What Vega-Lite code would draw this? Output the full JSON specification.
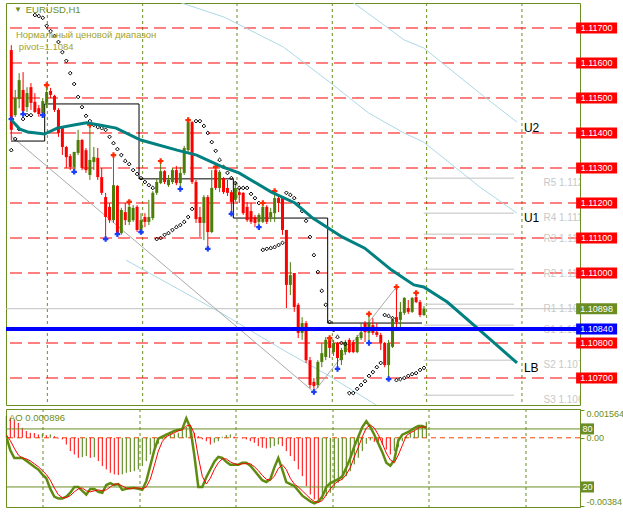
{
"$schema":"https://vega.github.io/schema/vega-lite/v6.json",
"background":"#ffffff",
"padding":{"left":3,"top":2,"right":0,"bottom":0},
"autosize":{"type":"pad"},
"spacing":4,
"bounds":"flush",
"config":{"view":{"stroke":"#6b8e23","strokeWidth":1},"font":"Liberation Sans"},
"datasets":{
"grid":[{"i":9.175},{"i":33.425},{"i":57.425},{"i":81.675},{"i":105.675},{"i":129.925}],
"levels":[{"p":1.117},{"p":1.116},{"p":1.115},{"p":1.114},{"p":1.113},{"p":1.112},{"p":1.111},{"p":1.11},{"p":1.108},{"p":1.107}],
"bid":[{"p":1.10898}],
"pivotline":[{"p":1.1084}],
"tags":[{"p":1.117,"kind":"level"},{"p":1.116,"kind":"level"},{"p":1.115,"kind":"level"},{"p":1.114,"kind":"level"},{"p":1.113,"kind":"level"},{"p":1.112,"kind":"level"},{"p":1.111,"kind":"level"},{"p":1.11,"kind":"level"},{"p":1.108,"kind":"level"},{"p":1.107,"kind":"level"},{"p":1.10898,"kind":"bid"},{"p":1.1084,"kind":"pivot"}],
"pivots":[{"p":1.11271,"label":"R5 1.1127"},{"p":1.11171,"label":"R4 1.1117"},{"p":1.11111,"label":"R3 1.1111"},{"p":1.11011,"label":"R2 1.1101"},{"p":1.10911,"label":"R1 1.1091"},{"p":1.10851,"label":"S1 1.1085"},{"p":1.10751,"label":"S2 1.1075"},{"p":1.10651,"label":"S3 1.1065"}],
"chan":[
{"line":"U2","i":85.425,"p":1.11786},{"line":"U2","i":87.175,"p":1.11771},{"line":"U2","i":94.175,"p":1.11714},{"line":"U2","i":99.925,"p":1.11666},{"line":"U2","i":104.925,"p":1.11643},{"line":"U2","i":119.175,"p":1.11514},{"line":"U2","i":128.675,"p":1.11431},
{"line":"U1","i":41.675,"p":1.1178},{"line":"U1","i":43.425,"p":1.11771},{"line":"U1","i":54.175,"p":1.11731},{"line":"U1","i":69.175,"p":1.11646},{"line":"U1","i":80.925,"p":1.11546},{"line":"U1","i":90.925,"p":1.11457},{"line":"U1","i":99.925,"p":1.114},{"line":"U1","i":104.925,"p":1.11374},{"line":"U1","i":119.175,"p":1.11246},{"line":"U1","i":128.675,"p":1.11171},
{"line":"LB","i":29.175,"p":1.11037},{"line":"LB","i":52.925,"p":1.10889},{"line":"LB","i":69.175,"p":1.1078},{"line":"LB","i":80.425,"p":1.10709},{"line":"LB","i":91.675,"p":1.10631},{"line":"LB","i":95.425,"p":1.10603}],
"zz":[{"i":0,"p":1.11391},{"i":77,"p":1.1066},{"i":98,"p":1.1096}],
"daily":[{"i":-0.075,"p":1.11377},{"i":8.5,"p":1.11483},{"i":32.5,"p":1.11269},{"i":56.5,"p":1.11157},{"i":80.5,"p":1.10857},{"i":104.5,"p":1.10857}],
"ma":[{"i":0,"p":1.11437},{"i":2.175,"p":1.11411},{"i":4.175,"p":1.11403},{"i":8.425,"p":1.11397},{"i":11.675,"p":1.11414},{"i":15.925,"p":1.11423},{"i":19.175,"p":1.11429},{"i":22.425,"p":1.11423},{"i":26.675,"p":1.11414},{"i":32.925,"p":1.1138},{"i":42.175,"p":1.11351},{"i":47.175,"p":1.11337},{"i":53.675,"p":1.11303},{"i":57.925,"p":1.11286},{"i":66.175,"p":1.11231},{"i":72.175,"p":1.112},{"i":76.675,"p":1.11157},{"i":84.175,"p":1.11103},{"i":89.925,"p":1.11071},{"i":96.675,"p":1.11009},{"i":102.425,"p":1.10966},{"i":104.925,"p":1.1096},{"i":110.925,"p":1.10917},{"i":119.175,"p":1.10837},{"i":128.675,"p":1.10743}],
"candles":[
{"i":0,"o":1.11637,"h":1.11651,"l":1.1138,"c":1.11409},
{"i":1,"o":1.11451,"h":1.11523,"l":1.11446,"c":1.115},
{"i":2,"o":1.11497,"h":1.11571,"l":1.11471,"c":1.11551},
{"i":3,"o":1.11523,"h":1.11574,"l":1.11457,"c":1.11463},
{"i":4,"o":1.11474,"h":1.11531,"l":1.1146,"c":1.11514},
{"i":5,"o":1.11531,"h":1.11543,"l":1.11466,"c":1.11486},
{"i":6,"o":1.11489,"h":1.11514,"l":1.11457,"c":1.1146},
{"i":7,"o":1.11471,"h":1.1148,"l":1.11446,"c":1.11454},
{"i":8,"o":1.11457,"h":1.115,"l":1.11449,"c":1.11491},
{"i":9,"o":1.11486,"h":1.11537,"l":1.11471,"c":1.11517},
{"i":10,"o":1.1152,"h":1.11529,"l":1.115,"c":1.11509},
{"i":11,"o":1.11506,"h":1.11509,"l":1.1146,"c":1.11466},
{"i":12,"o":1.11466,"h":1.11471,"l":1.11389,"c":1.114},
{"i":13,"o":1.11414,"h":1.11417,"l":1.11337,"c":1.1136},
{"i":14,"o":1.1136,"h":1.11363,"l":1.113,"c":1.11331},
{"i":15,"o":1.11334,"h":1.1134,"l":1.11294,"c":1.11303},
{"i":16,"o":1.11303,"h":1.11346,"l":1.11289,"c":1.11346},
{"i":17,"o":1.11343,"h":1.11409,"l":1.11337,"c":1.1138},
{"i":18,"o":1.1138,"h":1.11383,"l":1.11294,"c":1.113},
{"i":19,"o":1.11351,"h":1.11357,"l":1.11286,"c":1.11294},
{"i":20,"o":1.1128,"h":1.11423,"l":1.11266,"c":1.11323},
{"i":21,"o":1.11317,"h":1.1136,"l":1.11294,"c":1.11331},
{"i":22,"o":1.11329,"h":1.11357,"l":1.11266,"c":1.11274},
{"i":23,"o":1.11274,"h":1.113,"l":1.11223,"c":1.11229},
{"i":24,"o":1.11217,"h":1.11229,"l":1.11097,"c":1.1116},
{"i":25,"o":1.11189,"h":1.112,"l":1.11143,"c":1.11151},
{"i":26,"o":1.11151,"h":1.11337,"l":1.11143,"c":1.11251},
{"i":27,"o":1.11249,"h":1.11251,"l":1.11109,"c":1.11114},
{"i":28,"o":1.11114,"h":1.11186,"l":1.11109,"c":1.1118},
{"i":29,"o":1.11174,"h":1.112,"l":1.11137,"c":1.11151},
{"i":30,"o":1.11146,"h":1.11203,"l":1.11137,"c":1.11189},
{"i":31,"o":1.11151,"h":1.11194,"l":1.11146,"c":1.11186},
{"i":32,"o":1.11189,"h":1.11194,"l":1.11117,"c":1.11123},
{"i":33,"o":1.11117,"h":1.11171,"l":1.11114,"c":1.11151},
{"i":34,"o":1.1116,"h":1.11171,"l":1.11131,"c":1.11146},
{"i":35,"o":1.11146,"h":1.11209,"l":1.11137,"c":1.1116},
{"i":36,"o":1.11157,"h":1.11234,"l":1.11151,"c":1.11229},
{"i":37,"o":1.11229,"h":1.11271,"l":1.11223,"c":1.1126},
{"i":38,"o":1.11257,"h":1.1132,"l":1.11254,"c":1.11291},
{"i":39,"o":1.11291,"h":1.11294,"l":1.11254,"c":1.1126},
{"i":40,"o":1.11251,"h":1.1128,"l":1.11246,"c":1.11266},
{"i":41,"o":1.1126,"h":1.113,"l":1.11254,"c":1.11294},
{"i":42,"o":1.11294,"h":1.11306,"l":1.11251,"c":1.11257},
{"i":43,"o":1.11257,"h":1.11303,"l":1.1124,"c":1.11286},
{"i":44,"o":1.11286,"h":1.11363,"l":1.1128,"c":1.11357},
{"i":45,"o":1.11351,"h":1.1144,"l":1.11346,"c":1.11431},
{"i":46,"o":1.11431,"h":1.11434,"l":1.11254,"c":1.1126},
{"i":47,"o":1.1126,"h":1.11266,"l":1.11143,"c":1.11154},
{"i":48,"o":1.1116,"h":1.11189,"l":1.11103,"c":1.11143},
{"i":49,"o":1.11143,"h":1.11223,"l":1.11094,"c":1.11217},
{"i":50,"o":1.11217,"h":1.11223,"l":1.11069,"c":1.11117},
{"i":51,"o":1.11117,"h":1.11294,"l":1.11114,"c":1.11243},
{"i":52,"o":1.11294,"h":1.11303,"l":1.11237,"c":1.11243},
{"i":53,"o":1.11243,"h":1.11294,"l":1.11231,"c":1.11289},
{"i":54,"o":1.11271,"h":1.11274,"l":1.11226,"c":1.11231},
{"i":55,"o":1.11243,"h":1.11266,"l":1.1122,"c":1.11229},
{"i":56,"o":1.11231,"h":1.11237,"l":1.11169,"c":1.11203},
{"i":57,"o":1.11209,"h":1.1126,"l":1.11203,"c":1.11243},
{"i":58,"o":1.11231,"h":1.11243,"l":1.112,"c":1.11223},
{"i":59,"o":1.11229,"h":1.11231,"l":1.11166,"c":1.11171},
{"i":60,"o":1.11189,"h":1.11203,"l":1.11146,"c":1.11151},
{"i":61,"o":1.11177,"h":1.112,"l":1.1114,"c":1.11146},
{"i":62,"o":1.1116,"h":1.11166,"l":1.11131,"c":1.11143},
{"i":63,"o":1.11146,"h":1.11171,"l":1.11131,"c":1.11166},
{"i":64,"o":1.11146,"h":1.112,"l":1.11143,"c":1.11189},
{"i":65,"o":1.11189,"h":1.11194,"l":1.1114,"c":1.11146},
{"i":66,"o":1.1116,"h":1.11186,"l":1.11146,"c":1.11174},
{"i":67,"o":1.11171,"h":1.11234,"l":1.11146,"c":1.11214},
{"i":68,"o":1.11214,"h":1.1122,"l":1.11174,"c":1.112},
{"i":69,"o":1.11214,"h":1.11214,"l":1.11109,"c":1.11123},
{"i":70,"o":1.11123,"h":1.11123,"l":1.109,"c":1.10966},
{"i":71,"o":1.10966,"h":1.11031,"l":1.10937,"c":1.10994},
{"i":72,"o":1.11,"h":1.11,"l":1.10889,"c":1.10903},
{"i":73,"o":1.10909,"h":1.10914,"l":1.10814,"c":1.10829},
{"i":74,"o":1.10829,"h":1.10874,"l":1.10809,"c":1.10857},
{"i":75,"o":1.10857,"h":1.10863,"l":1.10743,"c":1.10751},
{"i":76,"o":1.10751,"h":1.1076,"l":1.10671,"c":1.1068},
{"i":77,"o":1.10689,"h":1.107,"l":1.1066,"c":1.10677},
{"i":78,"o":1.1068,"h":1.10751,"l":1.10671,"c":1.10746},
{"i":79,"o":1.10746,"h":1.108,"l":1.10731,"c":1.10771},
{"i":80,"o":1.1076,"h":1.10817,"l":1.10751,"c":1.10809},
{"i":81,"o":1.10811,"h":1.10814,"l":1.10757,"c":1.10786},
{"i":82,"o":1.10774,"h":1.10809,"l":1.10763,"c":1.108},
{"i":83,"o":1.108,"h":1.10803,"l":1.10723,"c":1.10757},
{"i":84,"o":1.10751,"h":1.10786,"l":1.10737,"c":1.1078},
{"i":85,"o":1.10774,"h":1.10809,"l":1.10766,"c":1.10803},
{"i":86,"o":1.10809,"h":1.10814,"l":1.10771,"c":1.10774},
{"i":87,"o":1.10803,"h":1.10809,"l":1.10771,"c":1.10774},
{"i":88,"o":1.10774,"h":1.10823,"l":1.10771,"c":1.10817},
{"i":89,"o":1.10814,"h":1.10857,"l":1.10809,"c":1.10831},
{"i":90,"o":1.10857,"h":1.10863,"l":1.10803,"c":1.10831},
{"i":91,"o":1.10829,"h":1.10883,"l":1.108,"c":1.10857},
{"i":92,"o":1.10851,"h":1.10871,"l":1.10823,"c":1.10829},
{"i":93,"o":1.10831,"h":1.10857,"l":1.10817,"c":1.10823},
{"i":94,"o":1.10823,"h":1.10829,"l":1.1078,"c":1.108},
{"i":95,"o":1.108,"h":1.10803,"l":1.10731,"c":1.10737},
{"i":96,"o":1.10737,"h":1.10809,"l":1.10697,"c":1.108},
{"i":97,"o":1.10789,"h":1.10871,"l":1.10786,"c":1.10866},
{"i":98,"o":1.10874,"h":1.1096,"l":1.10843,"c":1.1086},
{"i":99,"o":1.10866,"h":1.10917,"l":1.10843,"c":1.10889},
{"i":100,"o":1.10886,"h":1.10931,"l":1.1088,"c":1.10929},
{"i":101,"o":1.109,"h":1.10923,"l":1.10883,"c":1.10889},
{"i":102,"o":1.10889,"h":1.10931,"l":1.10886,"c":1.10929},
{"i":103,"o":1.10931,"h":1.10943,"l":1.10914,"c":1.10917},
{"i":104,"o":1.10917,"h":1.10923,"l":1.10874,"c":1.1088},
{"i":105,"o":1.1088,"h":1.10906,"l":1.10877,"c":1.10898}],
"sar":[{"i":0,"p":1.11351},{"i":1,"p":1.11383},{"i":2,"p":1.11411},{"i":3,"p":1.1144},{"i":4,"p":1.11451},{"i":5,"p":1.11451},{"i":6,"p":1.11737},{"i":7,"p":1.11734},{"i":8,"p":1.11729},{"i":9,"p":1.11706},{"i":10,"p":1.11691},{"i":11,"p":1.11677},{"i":12,"p":1.1166},{"i":13,"p":1.11631},{"i":14,"p":1.11606},{"i":15,"p":1.11571},{"i":16,"p":1.1154},{"i":17,"p":1.11503},{"i":18,"p":1.11474},{"i":19,"p":1.11449},{"i":20,"p":1.11434},{"i":21,"p":1.11423},{"i":22,"p":1.11417},{"i":23,"p":1.11414},{"i":24,"p":1.11409},{"i":25,"p":1.11389},{"i":26,"p":1.11371},{"i":27,"p":1.11354},{"i":28,"p":1.11337},{"i":29,"p":1.1132},{"i":30,"p":1.11311},{"i":31,"p":1.11294},{"i":32,"p":1.11283},{"i":33,"p":1.11271},{"i":34,"p":1.1126},{"i":35,"p":1.11251},{"i":36,"p":1.11243},{"i":37,"p":1.11097},{"i":38,"p":1.111},{"i":39,"p":1.11109},{"i":40,"p":1.11114},{"i":41,"p":1.11123},{"i":42,"p":1.11131},{"i":43,"p":1.11137},{"i":44,"p":1.11146},{"i":45,"p":1.1116},{"i":46,"p":1.11183},{"i":47,"p":1.11434},{"i":48,"p":1.11434},{"i":49,"p":1.1142},{"i":50,"p":1.114},{"i":51,"p":1.11374},{"i":52,"p":1.11349},{"i":53,"p":1.11323},{"i":54,"p":1.11303},{"i":55,"p":1.11286},{"i":56,"p":1.11271},{"i":57,"p":1.11257},{"i":58,"p":1.11243},{"i":59,"p":1.11243},{"i":60,"p":1.11243},{"i":61,"p":1.11226},{"i":62,"p":1.11214},{"i":63,"p":1.112},{"i":64,"p":1.11066},{"i":65,"p":1.11069},{"i":66,"p":1.11071},{"i":67,"p":1.11074},{"i":68,"p":1.1108},{"i":69,"p":1.11086},{"i":70,"p":1.11229},{"i":71,"p":1.11223},{"i":72,"p":1.11214},{"i":73,"p":1.11197},{"i":74,"p":1.11177},{"i":75,"p":1.11149},{"i":76,"p":1.11103},{"i":77,"p":1.11051},{"i":78,"p":1.11003},{"i":79,"p":1.10949},{"i":80,"p":1.10909},{"i":81,"p":1.1086},{"i":82,"p":1.10837},{"i":83,"p":1.10817},{"i":84,"p":1.108},{"i":85,"p":1.10797},{"i":86,"p":1.10657},{"i":87,"p":1.10657},{"i":88,"p":1.10669},{"i":89,"p":1.1068},{"i":90,"p":1.10691},{"i":91,"p":1.10706},{"i":92,"p":1.10717},{"i":93,"p":1.10731},{"i":94,"p":1.10743},{"i":95,"p":1.1088},{"i":96,"p":1.10877},{"i":97,"p":1.10871},{"i":98,"p":1.10694},{"i":99,"p":1.10697},{"i":100,"p":1.107},{"i":101,"p":1.10706},{"i":102,"p":1.10711},{"i":103,"p":1.10714},{"i":104,"p":1.10723},{"i":105,"p":1.10729}],
"fractals":[{"i":9,"p":1.11537,"type":"up"},{"i":20,"p":1.11423,"type":"up"},{"i":26,"p":1.11337,"type":"up"},{"i":30,"p":1.11203,"type":"up"},{"i":38,"p":1.1132,"type":"up"},{"i":45,"p":1.11437,"type":"up"},{"i":52,"p":1.11303,"type":"up"},{"i":64,"p":1.112,"type":"up"},{"i":67,"p":1.11234,"type":"up"},{"i":81,"p":1.10814,"type":"up"},{"i":91,"p":1.10883,"type":"up"},{"i":98,"p":1.1096,"type":"up"},{"i":103,"p":1.10943,"type":"up"},
{"i":0,"p":1.1144,"type":"down"},{"i":3,"p":1.11454,"type":"down"},{"i":8,"p":1.11451,"type":"down"},{"i":16,"p":1.11289,"type":"down"},{"i":24,"p":1.11097,"type":"down"},{"i":27,"p":1.11111,"type":"down"},{"i":33,"p":1.11117,"type":"down"},{"i":43,"p":1.1124,"type":"down"},{"i":50,"p":1.11069,"type":"down"},{"i":56,"p":1.11169,"type":"down"},{"i":63,"p":1.11131,"type":"down"},{"i":77,"p":1.1066,"type":"down"},{"i":83,"p":1.10726,"type":"down"},{"i":91,"p":1.108,"type":"down"},{"i":96,"p":1.10697,"type":"down"}],
"ind":[{"i":0,"ao":0.00122,"k":72,"d":74},{"i":1,"ao":0.00113,"k":58,"d":68},{"i":2,"ao":0.00103,"k":50,"d":60},{"i":3,"ao":0.00084,"k":50,"d":53},{"i":4,"ao":0.00056,"k":50,"d":50},{"i":5,"ao":0.00038,"k":47,"d":49},{"i":6,"ao":0.00028,"k":44,"d":47},{"i":7,"ao":0.00027,"k":41,"d":44},{"i":8,"ao":0.00019,"k":38,"d":41},{"i":9,"ao":0.00023,"k":33,"d":37},{"i":10,"ao":0.00015,"k":29,"d":33},{"i":11,"ao":0.00019,"k":18,"d":27},{"i":12,"ao":0.00009,"k":10,"d":19},{"i":13,"ao":-0.00004,"k":8,"d":12},{"i":14,"ao":-0.00009,"k":8,"d":9},{"i":15,"ao":-0.00038,"k":10,"d":9},{"i":16,"ao":-0.00075,"k":14,"d":11},{"i":17,"ao":-0.00094,"k":20,"d":15},{"i":18,"ao":-0.00113,"k":20,"d":18},{"i":19,"ao":-0.00109,"k":16,"d":19},{"i":20,"ao":-0.00103,"k":12,"d":16},{"i":21,"ao":-0.00113,"k":18,"d":15},{"i":22,"ao":-0.00109,"k":18,"d":16},{"i":23,"ao":-0.00131,"k":15,"d":17},{"i":24,"ao":-0.00159,"k":14,"d":16},{"i":25,"ao":-0.00178,"k":22,"d":17},{"i":26,"ao":-0.00197,"k":24,"d":20},{"i":27,"ao":-0.00206,"k":22,"d":23},{"i":28,"ao":-0.0021,"k":23,"d":23},{"i":29,"ao":-0.00206,"k":17,"d":21},{"i":30,"ao":-0.00197,"k":18,"d":19},{"i":31,"ao":-0.00193,"k":19,"d":18},{"i":32,"ao":-0.00188,"k":19,"d":19},{"i":33,"ao":-0.00178,"k":18,"d":19},{"i":34,"ao":-0.00159,"k":17,"d":18},{"i":35,"ao":-0.00131,"k":26,"d":20},{"i":36,"ao":-0.00094,"k":42,"d":28},{"i":37,"ao":-0.00056,"k":58,"d":42},{"i":38,"ao":-0.00034,"k":70,"d":57},{"i":39,"ao":-0.00009,"k":72,"d":67},{"i":40,"ao":0.00009,"k":74,"d":72},{"i":41,"ao":0.00019,"k":76,"d":74},{"i":42,"ao":0.00023,"k":78,"d":76},{"i":43,"ao":0.00028,"k":79,"d":78},{"i":44,"ao":0.00047,"k":80,"d":79},{"i":45,"ao":0.0006,"k":91,"d":83},{"i":46,"ao":0.00047,"k":81,"d":84},{"i":47,"ao":0.00028,"k":53,"d":75},{"i":48,"ao":0.00009,"k":20,"d":51},{"i":49,"ao":-0.00009,"k":20,"d":31},{"i":50,"ao":-0.00019,"k":30,"d":23},{"i":51,"ao":-0.00038,"k":38,"d":29},{"i":52,"ao":-0.00028,"k":46,"d":38},{"i":53,"ao":-0.00019,"k":51,"d":45},{"i":54,"ao":0.00006,"k":50,"d":49},{"i":55,"ao":0.00015,"k":46,"d":49},{"i":56,"ao":0.00019,"k":43,"d":46},{"i":57,"ao":0.00006,"k":43,"d":44},{"i":58,"ao":0,"k":43,"d":43},{"i":59,"ao":-0.00004,"k":45,"d":44},{"i":60,"ao":-0.00009,"k":45,"d":44},{"i":61,"ao":-0.00019,"k":42,"d":44},{"i":62,"ao":-0.00028,"k":37,"d":41},{"i":63,"ao":-0.00047,"k":32,"d":37},{"i":64,"ao":-0.00056,"k":27,"d":32},{"i":65,"ao":-0.0006,"k":25,"d":28},{"i":66,"ao":-0.00056,"k":28,"d":27},{"i":67,"ao":-0.00047,"k":40,"d":31},{"i":68,"ao":-0.00038,"k":50,"d":39},{"i":69,"ao":-0.00047,"k":38,"d":43},{"i":70,"ao":-0.00075,"k":25,"d":38},{"i":71,"ao":-0.00103,"k":23,"d":29},{"i":72,"ao":-0.00131,"k":21,"d":23},{"i":73,"ao":-0.00178,"k":16,"d":20},{"i":74,"ao":-0.00216,"k":11,"d":16},{"i":75,"ao":-0.00272,"k":8,"d":12},{"i":76,"ao":-0.00319,"k":5,"d":8},{"i":77,"ao":-0.00347,"k":3,"d":5},{"i":78,"ao":-0.0036,"k":5,"d":4},{"i":79,"ao":-0.00347,"k":10,"d":6},{"i":80,"ao":-0.00328,"k":20,"d":12},{"i":81,"ao":-0.0031,"k":24,"d":18},{"i":82,"ao":-0.00281,"k":26,"d":23},{"i":83,"ao":-0.00253,"k":28,"d":26},{"i":84,"ao":-0.00235,"k":31,"d":28},{"i":85,"ao":-0.00216,"k":40,"d":33},{"i":86,"ao":-0.00188,"k":50,"d":40},{"i":87,"ao":-0.0015,"k":62,"d":51},{"i":88,"ao":-0.00113,"k":72,"d":61},{"i":89,"ao":-0.00075,"k":82,"d":72},{"i":90,"ao":-0.00034,"k":88,"d":81},{"i":91,"ao":-0.00015,"k":82,"d":84},{"i":92,"ao":-0.00023,"k":74,"d":81},{"i":93,"ao":-0.00034,"k":65,"d":74},{"i":94,"ao":-0.00041,"k":56,"d":65},{"i":95,"ao":-0.00066,"k":45,"d":55},{"i":96,"ao":-0.00094,"k":42,"d":48},{"i":97,"ao":-0.00075,"k":48,"d":45},{"i":98,"ao":-0.00053,"k":68,"d":53},{"i":99,"ao":-0.00019,"k":74,"d":63},{"i":100,"ao":0.00009,"k":76,"d":73},{"i":101,"ao":0.00028,"k":78,"d":76},{"i":102,"ao":0.00047,"k":81,"d":78},{"i":103,"ao":0.0006,"k":83,"d":81},{"i":104,"ao":0.00071,"k":83,"d":82},{"i":105,"ao":0.000896,"k":81,"d":82}],
"aozero":[{"v":0}],
"stlevels":[{"v":80},{"v":20}]
},
"vconcat":[
{"width":574,"height":402,
"layer":[
{"data":{"name":"grid"},"mark":{"type":"rule","color":"#6b8e23","strokeDash":[3,3],"strokeWidth":1},"encoding":{"x":{"field":"i","type":"quantitative","scale":{"domain":[-0.075,143.425],"nice":false,"zero":false},"axis":null}}},
{"data":{"name":"levels"},"mark":{"type":"rule","color":"#ff0000","strokeDash":[12,6],"strokeWidth":1},"encoding":{"y":{"field":"p","type":"quantitative","scale":{"domain":[1.106229,1.117714],"nice":false,"zero":false},"axis":{"orient":"right","values":[1.11675,1.1158,1.11485,1.1139,1.11295,1.112,1.11105,1.1101,1.10915,1.1082,1.10725,1.1063],"format":".5f","labelColor":"#6b8e23","labelFontSize":9,"tickColor":"#6b8e23","tickSize":4,"domainColor":"#6b8e23","labelPadding":2,"title":null,"grid":false,"labelOverlap":false,"labelFlush":false}}}},
{"data":{"name":"bid"},"mark":{"type":"rule","color":"#c0c0c0","strokeWidth":1},"encoding":{"y":{"field":"p","type":"quantitative","scale":{"domain":[1.106229,1.117714],"nice":false,"zero":false},"axis":null}}},
{"data":{"name":"chan"},"mark":{"type":"line","color":"#add8e6","strokeWidth":1,"clip":true},"encoding":{"x":{"field":"i","type":"quantitative","scale":{"domain":[-0.075,143.425],"nice":false,"zero":false},"axis":null},"y":{"field":"p","type":"quantitative","scale":{"domain":[1.106229,1.117714],"nice":false,"zero":false},"axis":null},"detail":{"field":"line","type":"nominal"}}},
{"data":{"name":"pivots"},"mark":{"type":"rule","color":"#c0c0c0","strokeWidth":1},"encoding":{"x":{"datum":104.925,"type":"quantitative","scale":{"domain":[-0.075,143.425],"nice":false,"zero":false},"axis":null},"x2":{"datum":127.925},"y":{"field":"p","type":"quantitative","scale":{"domain":[1.106229,1.117714],"nice":false,"zero":false},"axis":null}}},
{"data":{"name":"pivots"},"mark":{"type":"text","color":"#c8c8c8","fontSize":10,"align":"left","baseline":"middle","dy":5,"clip":true},"encoding":{"x":{"datum":135.4,"type":"quantitative","scale":{"domain":[-0.075,143.425],"nice":false,"zero":false},"axis":null},"y":{"field":"p","type":"quantitative","scale":{"domain":[1.106229,1.117714],"nice":false,"zero":false},"axis":null},"text":{"field":"label","type":"nominal"}}},
{"data":{"name":"zz"},"mark":{"type":"line","color":"#a9a9a9","strokeWidth":1,"clip":true},"encoding":{"x":{"field":"i","type":"quantitative","scale":{"domain":[-0.075,143.425],"nice":false,"zero":false},"axis":null},"y":{"field":"p","type":"quantitative","scale":{"domain":[1.106229,1.117714],"nice":false,"zero":false},"axis":null}}},
{"data":{"name":"daily"},"mark":{"type":"line","color":"#000000","strokeWidth":1,"interpolate":"step-after","clip":true},"encoding":{"x":{"field":"i","type":"quantitative","scale":{"domain":[-0.075,143.425],"nice":false,"zero":false},"axis":null},"y":{"field":"p","type":"quantitative","scale":{"domain":[1.106229,1.117714],"nice":false,"zero":false},"axis":null}}},
{"data":{"name":"candles"},"mark":{"type":"rule","strokeWidth":1,"clip":true},"encoding":{"x":{"field":"i","type":"quantitative","scale":{"domain":[-0.075,143.425],"nice":false,"zero":false},"axis":null},"y":{"field":"l","type":"quantitative","scale":{"domain":[1.106229,1.117714],"nice":false,"zero":false},"axis":null},"y2":{"field":"h"},"color":{"condition":{"test":"datum.c >= datum.o","value":"#4b7d07"},"value":"#ff0000"}}},
{"data":{"name":"candles"},"mark":{"type":"bar","width":3,"clip":true,"orient":"vertical"},"encoding":{"x":{"field":"i","type":"quantitative","scale":{"domain":[-0.075,143.425],"nice":false,"zero":false},"axis":null},"y":{"field":"o","type":"quantitative","scale":{"domain":[1.106229,1.117714],"nice":false,"zero":false},"axis":null},"y2":{"field":"c"},"color":{"condition":{"test":"datum.c >= datum.o","value":"#4b7d07"},"value":"#ff0000"}}},
{"data":{"name":"sar"},"mark":{"type":"point","shape":"diamond","size":14,"filled":false,"color":"#000000","strokeWidth":1,"opacity":1,"clip":true},"encoding":{"x":{"field":"i","type":"quantitative","scale":{"domain":[-0.075,143.425],"nice":false,"zero":false},"axis":null},"y":{"field":"p","type":"quantitative","scale":{"domain":[1.106229,1.117714],"nice":false,"zero":false},"axis":null}}},
{"data":{"name":"fractals"},"mark":{"type":"point","shape":"cross","size":30,"filled":true,"opacity":1,"clip":true},"encoding":{"x":{"field":"i","type":"quantitative","scale":{"domain":[-0.075,143.425],"nice":false,"zero":false},"axis":null},"y":{"field":"p","type":"quantitative","scale":{"domain":[1.106229,1.117714],"nice":false,"zero":false},"axis":null},"color":{"field":"type","type":"nominal","scale":{"domain":["up","down"],"range":["#ff2a00","#1a3cff"]},"legend":null}}},
{"data":{"name":"ma"},"mark":{"type":"line","color":"#008080","strokeWidth":3,"clip":true},"encoding":{"x":{"field":"i","type":"quantitative","scale":{"domain":[-0.075,143.425],"nice":false,"zero":false},"axis":null},"y":{"field":"p","type":"quantitative","scale":{"domain":[1.106229,1.117714],"nice":false,"zero":false},"axis":null}}},
{"data":{"name":"pivotline"},"mark":{"type":"rule","color":"#0000ff","strokeWidth":4},"encoding":{"y":{"field":"p","type":"quantitative","scale":{"domain":[1.106229,1.117714],"nice":false,"zero":false},"axis":null}}},
{"data":{"name":"tags"},"mark":{"type":"point","shape":"M-1,-0.27H1V0.27H-1Z","size":1681,"filled":true,"opacity":1,"strokeWidth":0},"encoding":{"x":{"datum":148.925,"type":"quantitative","scale":{"domain":[-0.075,143.425],"nice":false,"zero":false},"axis":null},"y":{"field":"p","type":"quantitative","scale":{"domain":[1.106229,1.117714],"nice":false,"zero":false},"axis":null},"fill":{"field":"kind","type":"nominal","scale":{"domain":["level","bid","pivot"],"range":["#ff0000","#6b8e23","#0000ff"]},"legend":null}}},
{"data":{"name":"tags"},"mark":{"type":"text","color":"#ffffff","fontSize":9,"align":"center","baseline":"middle"},"encoding":{"x":{"datum":148.925,"type":"quantitative","scale":{"domain":[-0.075,143.425],"nice":false,"zero":false},"axis":null},"y":{"field":"p","type":"quantitative","scale":{"domain":[1.106229,1.117714],"nice":false,"zero":false},"axis":null},"text":{"field":"p","type":"quantitative","format":".5f"}}},
{"data":{"values":[{}]},"mark":{"type":"text","text":"▼","color":"#6b8e23","fontSize":8,"align":"center","baseline":"middle"},"encoding":{"x":{"datum":1.675,"type":"quantitative","scale":{"domain":[-0.075,143.425],"nice":false,"zero":false},"axis":null},"y":{"datum":1.117514,"type":"quantitative","scale":{"domain":[1.106229,1.117714],"nice":false,"zero":false},"axis":null}}},
{"data":{"values":[{}]},"mark":{"type":"text","text":"EURUSD,H1","color":"#6b8e23","fontSize":9.5,"align":"left","baseline":"middle"},"encoding":{"x":{"datum":3.675,"type":"quantitative","scale":{"domain":[-0.075,143.425],"nice":false,"zero":false},"axis":null},"y":{"datum":1.117514,"type":"quantitative","scale":{"domain":[1.106229,1.117714],"nice":false,"zero":false},"axis":null}}},
{"data":{"values":[{}]},"mark":{"type":"text","text":"Нормальный ценовой диапазон","color":"#a3a32e","fontSize":9.5,"align":"left","baseline":"middle"},"encoding":{"x":{"datum":1.175,"type":"quantitative","scale":{"domain":[-0.075,143.425],"nice":false,"zero":false},"axis":null},"y":{"datum":1.1168,"type":"quantitative","scale":{"domain":[1.106229,1.117714],"nice":false,"zero":false},"axis":null}}},
{"data":{"values":[{}]},"mark":{"type":"text","text":"pivot=1.1084","color":"#a3a32e","fontSize":9.5,"align":"left","baseline":"middle"},"encoding":{"x":{"datum":1.925,"type":"quantitative","scale":{"domain":[-0.075,143.425],"nice":false,"zero":false},"axis":null},"y":{"datum":1.116457,"type":"quantitative","scale":{"domain":[1.106229,1.117714],"nice":false,"zero":false},"axis":null}}},
{"data":{"values":[{}]},"mark":{"type":"text","text":"U2","color":"#000000","fontSize":12,"align":"left","baseline":"middle"},"encoding":{"x":{"datum":130.425,"type":"quantitative","scale":{"domain":[-0.075,143.425],"nice":false,"zero":false},"axis":null},"y":{"datum":1.114143,"type":"quantitative","scale":{"domain":[1.106229,1.117714],"nice":false,"zero":false},"axis":null}}},
{"data":{"values":[{}]},"mark":{"type":"text","text":"U1","color":"#000000","fontSize":12,"align":"left","baseline":"middle"},"encoding":{"x":{"datum":130.425,"type":"quantitative","scale":{"domain":[-0.075,143.425],"nice":false,"zero":false},"axis":null},"y":{"datum":1.111571,"type":"quantitative","scale":{"domain":[1.106229,1.117714],"nice":false,"zero":false},"axis":null}}},
{"data":{"values":[{}]},"mark":{"type":"text","text":"LB","color":"#000000","fontSize":12,"align":"left","baseline":"middle"},"encoding":{"x":{"datum":130.425,"type":"quantitative","scale":{"domain":[-0.075,143.425],"nice":false,"zero":false},"axis":null},"y":{"datum":1.107286,"type":"quantitative","scale":{"domain":[1.106229,1.117714],"nice":false,"zero":false},"axis":null}}}
]},
{"width":574,"height":98,
"resolve":{"scale":{"y":"independent"}},
"layer":[
{"data":{"name":"grid"},"mark":{"type":"rule","color":"#6b8e23","strokeDash":[3,3],"strokeWidth":1},"encoding":{"x":{"field":"i","type":"quantitative","scale":{"domain":[-0.075,143.425],"nice":false,"zero":false},"axis":null}}},
{"data":{"name":"aozero"},"mark":{"type":"rule","color":"#ff4000","strokeDash":[5,4],"strokeWidth":1},"encoding":{"y":{"field":"v","type":"quantitative","scale":{"domain":[-0.003896,0.00162],"nice":false,"zero":false},"axis":null}}},
{"data":{"name":"ind"},"transform":[{"window":[{"op":"lag","field":"ao","as":"prev"}],"sort":[{"field":"i"}]}],"mark":{"type":"rule","strokeWidth":1},"encoding":{"x":{"field":"i","type":"quantitative","scale":{"domain":[-0.075,143.425],"nice":false,"zero":false},"axis":{"values":[0,16,32,48,64,80,96],"labelExpr":"['17 Dec 2019','18 Dec 07:00','18 Dec 23:00','19 Dec 15:00','20 Dec 07:00','20 Dec 23:00','23 Dec 15:00'][round(datum.value/16)]","labelAlign":"left","labelColor":"#6b8e23","labelFontSize":9.5,"tickColor":"#6b8e23","tickSize":4,"domainColor":"#6b8e23","labelPadding":2,"title":null,"grid":false,"labelFlush":false,"labelOverlap":false}},"y":{"field":"ao","type":"quantitative","scale":{"domain":[-0.003896,0.00162],"nice":false,"zero":false},"axis":{"orient":"right","values":[0.001564,0,-0.00384],"labelExpr":"datum.value == 0 ? '0.00' : replace(format(datum.value, datum.value > 0 ? '.6f' : '.5f'), '\u2212', '-')","labelBaseline":{"condition":[{"test":"datum.value > 0.001","value":"top"},{"test":"datum.value < -0.003","value":"bottom"}],"value":"middle"},"labelColor":"#6b8e23","labelFontSize":9,"tickColor":"#6b8e23","tickSize":4,"domainColor":"#6b8e23","labelPadding":2,"title":null,"grid":false,"labelOverlap":false,"labelFlush":false}},"y2":{"datum":0},"color":{"condition":{"test":"datum.prev == null || datum.ao > datum.prev","value":"#4b7d07"},"value":"#ff0000"}}},
{"data":{"name":"stlevels"},"mark":{"type":"rule","color":"#6b8e23","strokeWidth":1},"encoding":{"y":{"field":"v","type":"quantitative","scale":{"domain":[-0.72,100.6],"nice":false,"zero":false},"axis":null}}},
{"data":{"name":"ind"},"mark":{"type":"line","color":"#5f8c10","strokeWidth":2.5,"clip":true},"encoding":{"x":{"field":"i","type":"quantitative","scale":{"domain":[-0.075,143.425],"nice":false,"zero":false},"axis":null},"y":{"field":"k","type":"quantitative","scale":{"domain":[-0.72,100.6],"nice":false,"zero":false},"axis":null}}},
{"data":{"name":"ind"},"mark":{"type":"line","color":"#ff0000","strokeWidth":1,"clip":true},"encoding":{"x":{"field":"i","type":"quantitative","scale":{"domain":[-0.075,143.425],"nice":false,"zero":false},"axis":null},"y":{"field":"d","type":"quantitative","scale":{"domain":[-0.72,100.6],"nice":false,"zero":false},"axis":null}}},
{"data":{"name":"stlevels"},"mark":{"type":"point","shape":"M-1,-0.85H1V0.85H-1Z","size":169,"filled":true,"opacity":1,"color":"#6b8e23","strokeWidth":0},"encoding":{"x":{"datum":145.3,"type":"quantitative","scale":{"domain":[-0.075,143.425],"nice":false,"zero":false},"axis":null},"y":{"field":"v","type":"quantitative","scale":{"domain":[-0.72,100.6],"nice":false,"zero":false},"axis":null}}},
{"data":{"name":"stlevels"},"mark":{"type":"text","color":"#ffffff","fontSize":9,"align":"center","baseline":"middle"},"encoding":{"x":{"datum":145.3,"type":"quantitative","scale":{"domain":[-0.075,143.425],"nice":false,"zero":false},"axis":null},"y":{"field":"v","type":"quantitative","scale":{"domain":[-0.72,100.6],"nice":false,"zero":false},"axis":null},"text":{"field":"v","type":"quantitative"}}},
{"data":{"values":[{}]},"mark":{"type":"text","text":"AO 0.000896","color":"#6b8e23","fontSize":9.5,"align":"left","baseline":"middle"},"encoding":{"x":{"datum":0.675,"type":"quantitative","scale":{"domain":[-0.075,143.425],"nice":false,"zero":false},"axis":null},"y":{"datum":0.001113,"type":"quantitative","scale":{"domain":[-0.003896,0.00162],"nice":false,"zero":false},"axis":null}}}
]}
]
}
